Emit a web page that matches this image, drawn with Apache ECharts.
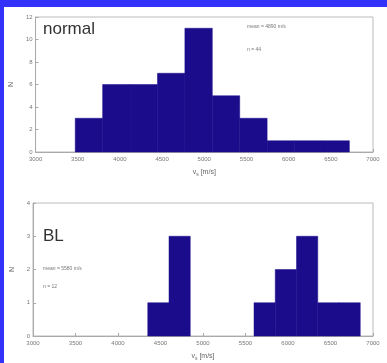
<!DOCTYPE html>
<html>
<head>
<meta charset="utf-8">
<script src="https://cdn.jsdelivr.net/npm/echarts@6/dist/echarts.min.js"></script>
<style>
  html, body { margin: 0; padding: 0; background: #fff; }
  #chart { width: 387px; height: 363px; }
</style>
</head>
<body>
<div id="chart"></div>
<script>
// x ticks (m/s)
var xTicks = [3000, 3500, 4000, 4500, 5000, 5500, 6000, 6500, 7000]

// upper panel "normal": bin left edges, bin width, counts
var normalEdges = [3470, 3795, 4120, 4445, 4770, 5095, 5420, 5745, 6070, 6395]
var normalWidth = 325
var normalCounts = [3, 6, 6, 7, 11, 5, 3, 1, 1, 1]

// lower panel "BL"
var blEdges = [4350, 4600, 5600, 5850, 6100, 6350, 6600]
var blWidth = 250
var blCounts = [1, 3, 1, 2, 3, 1, 1]

var fillColor = '#1b0c8c'

function toData(edges, counts, w) {
  return edges.map(function (e, i) { return [e, e + w, counts[i]] })
}

function renderBin(params, api) {
  var p0 = api.coord([api.value(0), 0])
  var p1 = api.coord([api.value(1), api.value(2)])
  return {
    type: 'rect',
    shape: { x: p0[0], y: p1[1], width: p1[0] - p0[0], height: p0[1] - p1[1] },
    style: { fill: fillColor, stroke: fillColor, lineWidth: 0.5 }
  }
}

function xAxisFor(idx) {
  return {
    type: 'value', gridIndex: idx,
    min: xTicks[0], max: xTicks[xTicks.length - 1], interval: 500,
    name: '{v|v}{s|s} [m/s]', nameLocation: 'middle', nameGap: 16,
    nameTextStyle: {
      rich: {
        v: { fontSize: 7, color: '#666' },
        s: { fontSize: 5, color: '#666', verticalAlign: 'bottom', padding: [4, 0, 0, 0] }
      },
      fontSize: 7, color: '#666'
    },
    axisLine: { lineStyle: { color: '#aaa' } },
    axisTick: { inside: true, length: 3, lineStyle: { color: '#aaa' } },
    axisLabel: { fontSize: 6, color: '#777', margin: 4, formatter: function (v) { return String(v) } },
    splitLine: { show: false }
  }
}

function yAxisFor(idx, max, step) {
  return {
    type: 'value', gridIndex: idx, min: 0, max: max, interval: step,
    name: 'N', nameLocation: 'middle', nameGap: 14, nameRotate: 90,
    nameTextStyle: { fontSize: 7, color: '#666' },
    axisLine: { show: true, lineStyle: { color: '#aaa' } },
    axisTick: { show: true, inside: true, length: 3, lineStyle: { color: '#aaa' } },
    axisLabel: { fontSize: 6, color: '#777', margin: 3 },
    splitLine: { show: false }
  }
}

var chart = echarts.init(document.getElementById('chart'))
chart.setOption({
  backgroundColor: '#fff',
  animation: false,
  grid: [
    { left: 33, right: 14, top: 17, height: 135, show: true, borderColor: '#bbb', borderWidth: 1 },
    { left: 33, right: 14, top: 203, height: 133, show: true, borderColor: '#bbb', borderWidth: 1 }
  ],
  xAxis: [xAxisFor(0), xAxisFor(1)],
  yAxis: [yAxisFor(0, 12, 2), yAxisFor(1, 4, 1)],
  series: [
    { type: 'custom', xAxisIndex: 0, yAxisIndex: 0, renderItem: renderBin,
      encode: { x: [0, 1], y: 2 }, data: toData(normalEdges, normalCounts, normalWidth) },
    { type: 'custom', xAxisIndex: 1, yAxisIndex: 1, renderItem: renderBin,
      encode: { x: [0, 1], y: 2 }, data: toData(blEdges, blCounts, blWidth) }
  ],
  graphic: [
    { type: 'rect', left: 0, top: 0, shape: { width: 387, height: 7 }, style: { fill: '#3232fa' }, z: 100 },
    { type: 'rect', left: 0, top: 0, shape: { width: 4, height: 363 }, style: { fill: '#3232fa' }, z: 100 },
    { type: 'text', left: 43, top: 21, style: { text: 'normal', fontSize: 17, fill: '#333', fontFamily: 'Liberation Sans Narrow, Arial' } },
    { type: 'text', left: 247, top: 24, style: { text: 'mean = 4890 m/s', fontSize: 5, fill: '#777' } },
    { type: 'text', left: 247, top: 47, style: { text: 'n = 44', fontSize: 5, fill: '#777' } },
    { type: 'text', left: 43, top: 228, style: { text: 'BL', fontSize: 17, fill: '#333', fontFamily: 'Liberation Sans Narrow, Arial' } },
    { type: 'text', left: 43, top: 266, style: { text: 'mean = 5580 m/s', fontSize: 5, fill: '#777' } },
    { type: 'text', left: 43, top: 284, style: { text: 'n = 12', fontSize: 5, fill: '#777' } }
  ]
})
</script>
</body>
</html>
